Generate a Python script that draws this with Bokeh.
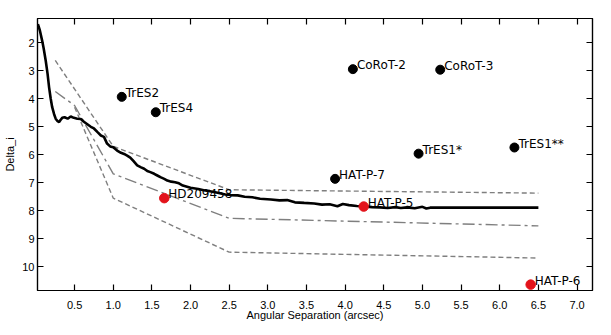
from bokeh.plotting import figure
from bokeh.models import Range1d, LinearAxis, FixedTicker, CustomJSTickFormatter, ColumnDataSource, NumeralTickFormatter
from bokeh.embed import file_html
from bokeh.resources import INLINE
from bokeh.core.properties import value

# ---- data ----
curve_x = [0.025, 0.05, 0.08, 0.10, 0.126, 0.15, 0.17, 0.19, 0.21, 0.235, 0.255, 0.28, 0.30, 0.32,
           0.34, 0.37, 0.41, 0.45, 0.49, 0.535, 0.58, 0.62, 0.66, 0.71, 0.75, 0.80, 0.84, 0.88,
           0.92, 0.96, 1.0, 1.05, 1.10, 1.14, 1.18, 1.22, 1.26, 1.31, 1.36, 1.40, 1.44, 1.48,
           1.53, 1.57, 1.61, 1.66, 1.70, 1.75, 1.80, 1.85, 1.90, 2.0, 2.1, 2.17, 2.25, 2.35,
           2.45, 2.52, 2.61, 2.7, 2.8, 2.9, 3.04, 3.15, 3.25, 3.35, 3.47, 3.6, 3.7, 3.8, 3.90,
           3.97, 4.05, 4.15, 4.24, 4.35, 4.45, 4.55, 4.65, 4.72, 4.8, 4.9, 5.0, 5.05, 5.1, 5.5,
           6.0, 6.5]
curve_y = [1.33, 1.55, 1.92, 2.2, 2.63, 3.1, 3.59, 3.98, 4.3, 4.55, 4.71, 4.8, 4.83, 4.75,
           4.68, 4.66, 4.71, 4.63, 4.68, 4.71, 4.72, 4.82, 4.9, 5.0, 5.06, 5.2, 5.31, 5.36,
           5.6, 5.7, 5.73, 5.85, 5.93, 5.97, 6.03, 6.1, 6.22, 6.38, 6.45, 6.5, 6.58, 6.62,
           6.68, 6.74, 6.8, 6.86, 6.92, 6.96, 6.98, 7.02, 7.1, 7.18, 7.22, 7.27, 7.3, 7.36,
           7.42, 7.44, 7.45, 7.5, 7.52, 7.57, 7.6, 7.63, 7.62, 7.7, 7.72, 7.74, 7.78, 7.77, 7.84,
           7.76, 7.8, 7.83, 7.85, 7.87, 7.88, 7.9, 7.87, 7.9, 7.88, 7.91, 7.86, 7.92, 7.89, 7.89,
           7.89, 7.89]

upper_x = [0.25, 1.0, 2.5, 6.5]
upper_y = [2.63, 5.7, 7.25, 7.37]
middle_x = [0.25, 0.5, 1.0, 2.5, 6.5]
middle_y = [3.74, 4.24, 6.68, 8.27, 8.54]
lower_x = [0.5, 1.0, 2.5, 6.5]
lower_y = [4.3, 7.55, 9.48, 9.69]

black_names = ["TrES2", "TrES4", "CoRoT-2", "CoRoT-3", "HAT-P-7", "TrES1*", "TrES1**"]
black_x = [1.11, 1.55, 4.10, 5.23, 3.87, 4.95, 6.19]
black_y = [3.93, 4.48, 2.94, 2.96, 6.86, 5.96, 5.74]

red_names = ["HD209458", "HAT-P-5", "HAT-P-6"]
red_x = [1.66, 4.24, 6.40]
red_y = [7.55, 7.85, 10.64]

x_ticks = [0.5, 1.0, 1.5, 2.0, 2.5, 3.0, 3.5, 4.0, 4.5, 5.0, 5.5, 6.0, 6.5, 7.0]
y_ticks = [2, 3, 4, 5, 6, 7, 8, 9, 10]

# ---- figure ----
p = figure(width=595, height=327, output_backend="svg", toolbar_location=None,
           x_range=Range1d(0.02, 7.2), y_range=Range1d(10.85, 1.13),
           min_border_left=37, min_border_right=3, min_border_top=18, min_border_bottom=37)
p.grid.visible = False
p.outline_line_color = "black"
p.outline_line_width = 1.2
p.background_fill_color = "white"
p.border_fill_color = "white"

TICK_FONT = "Liberation Sans"

def style_axis(ax, labels=True):
    ax.major_tick_in = 6
    ax.major_tick_out = 0
    ax.minor_tick_line_color = None
    ax.axis_line_color = "black"
    ax.axis_line_width = 1.2
    ax.major_tick_line_color = "black"
    ax.major_tick_line_width = 1.2
    ax.major_label_text_font = TICK_FONT
    ax.major_label_text_font_size = "11px"
    ax.major_label_text_color = "black"
    ax.axis_label_text_font = TICK_FONT
    ax.axis_label_text_font_size = "11px"
    ax.axis_label_text_font_style = "normal"
    ax.axis_label_text_color = "black"
    if not labels:
        ax.formatter = CustomJSTickFormatter(code="return ''")
        ax.major_label_standoff = 0

xa = p.xaxis[0]
xa.ticker = FixedTicker(ticks=x_ticks)
xa.formatter = NumeralTickFormatter(format="0.0")
xa.axis_label = "Angular Separation (arcsec)"
style_axis(xa)
xa.major_label_standoff = 10
xa.axis_label_standoff = -3

ya = p.yaxis[0]
ya.ticker = FixedTicker(ticks=y_ticks)
ya.axis_label = "Delta_i"
style_axis(ya)
ya.major_label_standoff = 3
ya.axis_label_standoff = 3

top = LinearAxis(ticker=FixedTicker(ticks=x_ticks))
style_axis(top, labels=False)
p.add_layout(top, "above")
right = LinearAxis(ticker=FixedTicker(ticks=y_ticks))
style_axis(right, labels=False)
p.add_layout(right, "right")

gray = "#7f7f7f"
p.line(upper_x, upper_y, line_color=gray, line_width=1.4, line_dash="5 3")
p.line(middle_x, middle_y, line_color=gray, line_width=1.4, line_dash="12 4 3 4")
p.line(lower_x, lower_y, line_color=gray, line_width=1.4, line_dash="5 3")
p.line(curve_x, curve_y, line_color="black", line_width=2.6)

bsrc = ColumnDataSource(dict(x=black_x, y=black_y, name=black_names))
rsrc = ColumnDataSource(dict(x=red_x, y=red_y, name=red_names))
p.scatter("x", "y", source=bsrc, size=9, color="black")
p.scatter("x", "y", source=rsrc, size=9.5, color="#e3131b")

for src in (bsrc, rsrc):
    p.text("x", "y", text="name", source=src, x_offset=4, y_offset=-4,
           text_font=value("DejaVu Sans"), text_font_size="12px", text_color="black",
           text_baseline="alphabetic", text_align="left")

open("out.html", "w").write(file_html(p, INLINE))
